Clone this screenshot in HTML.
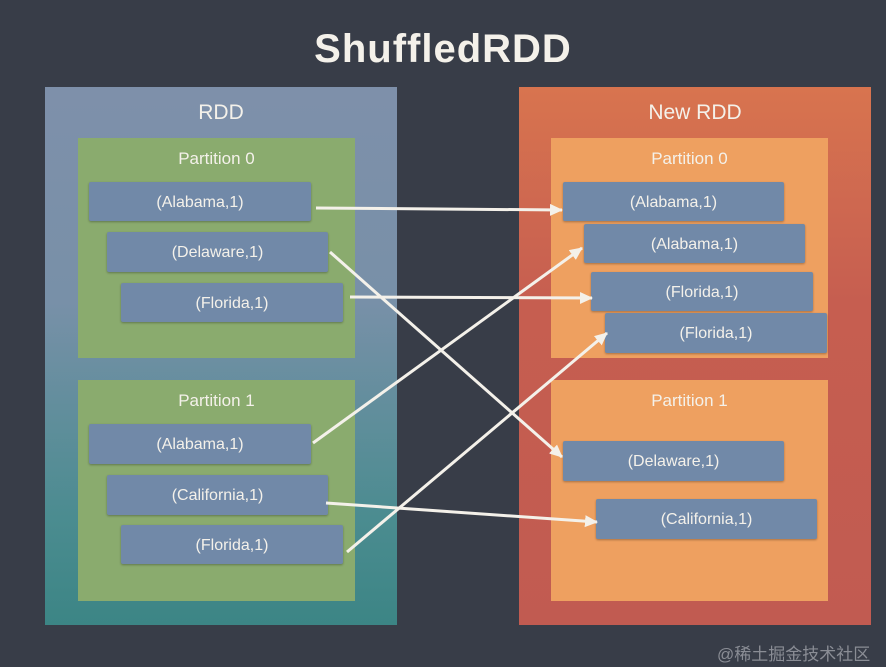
<!DOCTYPE html>
<html><head><style>
body{margin:0;width:886px;height:667px;background:#383d48;position:relative;overflow:hidden;font-family:"Liberation Sans",sans-serif;color:#f4f1ea}
div{position:absolute;box-sizing:border-box}
.t{text-align:center;font-size:17px}
.it{background:#7189a8;border-radius:2px;text-align:center;font-size:16px;line-height:42px;box-shadow:0 1px 2px rgba(0,0,0,.3)}
</style></head><body>
<div style="left:0;top:27px;width:886px;text-align:center;font-size:40px;font-weight:bold;letter-spacing:1px">ShuffledRDD</div>
<div style="left:45px;top:87px;width:352px;height:538px;background:linear-gradient(#7e90aa 0%,#7890a8 40%,#4b8c90 80%,#3c8585 100%)"></div>
<div class="t" style="left:45px;top:101px;width:352px;font-size:21px">RDD</div>
<div style="left:78px;top:138px;width:277px;height:220px;background:#8aab6e"></div>
<div class="t" style="left:78px;top:149px;width:277px">Partition 0</div>
<div style="left:78px;top:380px;width:277px;height:221px;background:#8aab6e"></div>
<div class="t" style="left:78px;top:391px;width:277px">Partition 1</div>
<div class="it" style="left:89px;top:182px;width:222px;height:39px">(Alabama,1)</div>
<div class="it" style="left:107px;top:232px;width:221px;height:40px">(Delaware,1)</div>
<div class="it" style="left:121px;top:283px;width:222px;height:39px">(Florida,1)</div>
<div class="it" style="left:89px;top:424px;width:222px;height:40px">(Alabama,1)</div>
<div class="it" style="left:107px;top:475px;width:221px;height:40px">(California,1)</div>
<div class="it" style="left:121px;top:525px;width:222px;height:39px">(Florida,1)</div>

<div style="left:519px;top:87px;width:352px;height:538px;background:linear-gradient(#d8744f,#c65e50 40%,#c15b51)"></div>
<div class="t" style="left:519px;top:101px;width:352px;font-size:21px">New RDD</div>
<div style="left:551px;top:138px;width:277px;height:220px;background:#eea060"></div>
<div class="t" style="left:551px;top:149px;width:277px">Partition 0</div>
<div style="left:551px;top:380px;width:277px;height:221px;background:#eea060"></div>
<div class="t" style="left:551px;top:391px;width:277px">Partition 1</div>
<div class="it" style="left:563px;top:182px;width:221px;height:39px">(Alabama,1)</div>
<div class="it" style="left:584px;top:224px;width:221px;height:39px">(Alabama,1)</div>
<div class="it" style="left:591px;top:272px;width:222px;height:39px">(Florida,1)</div>
<div class="it" style="left:605px;top:313px;width:222px;height:40px">(Florida,1)</div>
<div class="it" style="left:563px;top:441px;width:221px;height:40px">(Delaware,1)</div>
<div class="it" style="left:596px;top:499px;width:221px;height:40px">(California,1)</div>

<svg width="886" height="667" style="position:absolute;left:0;top:0">
<defs><marker id="a" markerWidth="14" markerHeight="14" refX="12" refY="7" orient="auto" markerUnits="userSpaceOnUse"><path d="M0,1 L13,7 L0,13 z" fill="#f4f1ea"/></marker></defs>
<g stroke="#f4f1ea" stroke-width="3" fill="none" marker-end="url(#a)">
<line x1="316" y1="208" x2="562" y2="210"/>
<line x1="330" y1="252" x2="562" y2="457"/>
<line x1="350" y1="297" x2="592" y2="298"/>
<line x1="313" y1="443" x2="582" y2="248"/>
<line x1="326" y1="503" x2="597" y2="522"/>
<line x1="347" y1="552" x2="607" y2="333"/>
</g></svg>
<div style="left:717px;top:640px;font-size:17px;color:#8a8d95;font-family:'Liberation Sans','Noto Sans CJK SC',sans-serif">@稀土掘金技术社区</div>
</body></html>
